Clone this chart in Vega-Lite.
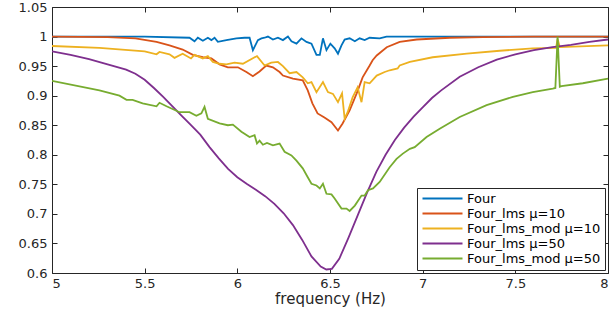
{
  "$schema": "https://vega.github.io/schema/vega-lite/v6.json",
  "width": 556,
  "height": 266,
  "autosize": {"type": "none"},
  "padding": {"left": 52, "top": 7, "right": 4, "bottom": 37},
  "config": {
    "view": {"stroke": "#262626", "strokeWidth": 1},
    "font": "DejaVu Sans",
    "axis": {"labelFont": "DejaVu Sans", "labelFontSize": 13, "labelColor": "#262626", "domainColor": "#262626", "tickColor": "#262626", "grid": false, "titleFont": "DejaVu Sans", "titleFontWeight": "normal", "titleColor": "#262626"}
  },
  "datasets": {
    "curves": [
      {"s": "Four", "x": 5.0, "y": 1.0}, {"s": "Four", "x": 5.5, "y": 1.0}, {"s": "Four", "x": 5.742, "y": 0.998}, {"s": "Four", "x": 5.769, "y": 0.992}, {"s": "Four", "x": 5.787, "y": 0.998}, {"s": "Four", "x": 5.814, "y": 0.993}, {"s": "Four", "x": 5.841, "y": 0.998}, {"s": "Four", "x": 5.86, "y": 0.994}, {"s": "Four", "x": 5.877, "y": 0.998}, {"s": "Four", "x": 5.895, "y": 0.991}, {"s": "Four", "x": 5.941, "y": 0.994}, {"s": "Four", "x": 5.995, "y": 0.997}, {"s": "Four", "x": 6.039, "y": 0.998}, {"s": "Four", "x": 6.066, "y": 0.998}, {"s": "Four", "x": 6.084, "y": 0.977}, {"s": "Four", "x": 6.111, "y": 0.994}, {"s": "Four", "x": 6.13, "y": 0.997}, {"s": "Four", "x": 6.147, "y": 0.998}, {"s": "Four", "x": 6.165, "y": 1.0}, {"s": "Four", "x": 6.192, "y": 0.995}, {"s": "Four", "x": 6.219, "y": 0.998}, {"s": "Four", "x": 6.246, "y": 0.994}, {"s": "Four", "x": 6.273, "y": 1.0}, {"s": "Four", "x": 6.292, "y": 0.992}, {"s": "Four", "x": 6.319, "y": 0.988}, {"s": "Four", "x": 6.346, "y": 0.997}, {"s": "Four", "x": 6.373, "y": 0.991}, {"s": "Four", "x": 6.4, "y": 0.988}, {"s": "Four", "x": 6.427, "y": 0.969}, {"s": "Four", "x": 6.445, "y": 0.969}, {"s": "Four", "x": 6.462, "y": 0.997}, {"s": "Four", "x": 6.481, "y": 0.977}, {"s": "Four", "x": 6.502, "y": 0.988}, {"s": "Four", "x": 6.525, "y": 0.98}, {"s": "Four", "x": 6.543, "y": 0.971}, {"s": "Four", "x": 6.562, "y": 0.985}, {"s": "Four", "x": 6.579, "y": 0.995}, {"s": "Four", "x": 6.606, "y": 0.997}, {"s": "Four", "x": 6.634, "y": 0.992}, {"s": "Four", "x": 6.66, "y": 0.997}, {"s": "Four", "x": 6.687, "y": 0.994}, {"s": "Four", "x": 6.714, "y": 0.998}, {"s": "Four", "x": 6.768, "y": 0.997}, {"s": "Four", "x": 6.805, "y": 1.0}, {"s": "Four", "x": 8.0, "y": 1.0},

      {"s": "Four_lms μ=10", "x": 5.0, "y": 1.0}, {"s": "Four_lms μ=10", "x": 5.3, "y": 0.999}, {"s": "Four_lms μ=10", "x": 5.45, "y": 0.997}, {"s": "Four_lms μ=10", "x": 5.564, "y": 0.991}, {"s": "Four_lms μ=10", "x": 5.634, "y": 0.985}, {"s": "Four_lms μ=10", "x": 5.705, "y": 0.978}, {"s": "Four_lms μ=10", "x": 5.76, "y": 0.969}, {"s": "Four_lms μ=10", "x": 5.814, "y": 0.965}, {"s": "Four_lms μ=10", "x": 5.86, "y": 0.963}, {"s": "Four_lms μ=10", "x": 5.904, "y": 0.953}, {"s": "Four_lms μ=10", "x": 5.949, "y": 0.948}, {"s": "Four_lms μ=10", "x": 6.003, "y": 0.948}, {"s": "Four_lms μ=10", "x": 6.049, "y": 0.94}, {"s": "Four_lms μ=10", "x": 6.084, "y": 0.933}, {"s": "Four_lms μ=10", "x": 6.12, "y": 0.941}, {"s": "Four_lms μ=10", "x": 6.156, "y": 0.951}, {"s": "Four_lms μ=10", "x": 6.192, "y": 0.948}, {"s": "Four_lms μ=10", "x": 6.228, "y": 0.94}, {"s": "Four_lms μ=10", "x": 6.246, "y": 0.934}, {"s": "Four_lms μ=10", "x": 6.3, "y": 0.929}, {"s": "Four_lms μ=10", "x": 6.353, "y": 0.926}, {"s": "Four_lms μ=10", "x": 6.38, "y": 0.909}, {"s": "Four_lms μ=10", "x": 6.405, "y": 0.887}, {"s": "Four_lms μ=10", "x": 6.433, "y": 0.87}, {"s": "Four_lms μ=10", "x": 6.47, "y": 0.863}, {"s": "Four_lms μ=10", "x": 6.508, "y": 0.855}, {"s": "Four_lms μ=10", "x": 6.543, "y": 0.841}, {"s": "Four_lms μ=10", "x": 6.568, "y": 0.853}, {"s": "Four_lms μ=10", "x": 6.606, "y": 0.875}, {"s": "Four_lms μ=10", "x": 6.644, "y": 0.904}, {"s": "Four_lms μ=10", "x": 6.676, "y": 0.931}, {"s": "Four_lms μ=10", "x": 6.714, "y": 0.951}, {"s": "Four_lms μ=10", "x": 6.73, "y": 0.96}, {"s": "Four_lms μ=10", "x": 6.752, "y": 0.968}, {"s": "Four_lms μ=10", "x": 6.806, "y": 0.982}, {"s": "Four_lms μ=10", "x": 6.876, "y": 0.991}, {"s": "Four_lms μ=10", "x": 6.968, "y": 0.995}, {"s": "Four_lms μ=10", "x": 7.146, "y": 0.998}, {"s": "Four_lms μ=10", "x": 7.324, "y": 0.999}, {"s": "Four_lms μ=10", "x": 7.6, "y": 1.0}, {"s": "Four_lms μ=10", "x": 8.0, "y": 1.0},

      {"s": "Four_lms_mod μ=10", "x": 5.0, "y": 0.984}, {"s": "Four_lms_mod μ=10", "x": 5.256, "y": 0.981}, {"s": "Four_lms_mod μ=10", "x": 5.5, "y": 0.975}, {"s": "Four_lms_mod μ=10", "x": 5.564, "y": 0.97}, {"s": "Four_lms_mod μ=10", "x": 5.58, "y": 0.974}, {"s": "Four_lms_mod μ=10", "x": 5.634, "y": 0.97}, {"s": "Four_lms_mod μ=10", "x": 5.661, "y": 0.964}, {"s": "Four_lms_mod μ=10", "x": 5.705, "y": 0.971}, {"s": "Four_lms_mod μ=10", "x": 5.75, "y": 0.963}, {"s": "Four_lms_mod μ=10", "x": 5.769, "y": 0.969}, {"s": "Four_lms_mod μ=10", "x": 5.814, "y": 0.963}, {"s": "Four_lms_mod μ=10", "x": 5.841, "y": 0.967}, {"s": "Four_lms_mod μ=10", "x": 5.868, "y": 0.957}, {"s": "Four_lms_mod μ=10", "x": 5.904, "y": 0.954}, {"s": "Four_lms_mod μ=10", "x": 5.941, "y": 0.953}, {"s": "Four_lms_mod μ=10", "x": 5.985, "y": 0.956}, {"s": "Four_lms_mod μ=10", "x": 6.03, "y": 0.954}, {"s": "Four_lms_mod μ=10", "x": 6.106, "y": 0.967}, {"s": "Four_lms_mod μ=10", "x": 6.147, "y": 0.951}, {"s": "Four_lms_mod μ=10", "x": 6.183, "y": 0.956}, {"s": "Four_lms_mod μ=10", "x": 6.219, "y": 0.957}, {"s": "Four_lms_mod μ=10", "x": 6.246, "y": 0.95}, {"s": "Four_lms_mod μ=10", "x": 6.282, "y": 0.938}, {"s": "Four_lms_mod μ=10", "x": 6.319, "y": 0.94}, {"s": "Four_lms_mod μ=10", "x": 6.353, "y": 0.931}, {"s": "Four_lms_mod μ=10", "x": 6.38, "y": 0.921}, {"s": "Four_lms_mod μ=10", "x": 6.4, "y": 0.923}, {"s": "Four_lms_mod μ=10", "x": 6.427, "y": 0.906}, {"s": "Four_lms_mod μ=10", "x": 6.462, "y": 0.923}, {"s": "Four_lms_mod μ=10", "x": 6.489, "y": 0.906}, {"s": "Four_lms_mod μ=10", "x": 6.516, "y": 0.903}, {"s": "Four_lms_mod μ=10", "x": 6.543, "y": 0.889}, {"s": "Four_lms_mod μ=10", "x": 6.565, "y": 0.904}, {"s": "Four_lms_mod μ=10", "x": 6.579, "y": 0.861}, {"s": "Four_lms_mod μ=10", "x": 6.595, "y": 0.872}, {"s": "Four_lms_mod μ=10", "x": 6.622, "y": 0.897}, {"s": "Four_lms_mod μ=10", "x": 6.649, "y": 0.914}, {"s": "Four_lms_mod μ=10", "x": 6.67, "y": 0.889}, {"s": "Four_lms_mod μ=10", "x": 6.687, "y": 0.923}, {"s": "Four_lms_mod μ=10", "x": 6.714, "y": 0.921}, {"s": "Four_lms_mod μ=10", "x": 6.752, "y": 0.934}, {"s": "Four_lms_mod μ=10", "x": 6.795, "y": 0.94}, {"s": "Four_lms_mod μ=10", "x": 6.822, "y": 0.943}, {"s": "Four_lms_mod μ=10", "x": 6.865, "y": 0.946}, {"s": "Four_lms_mod μ=10", "x": 6.876, "y": 0.951}, {"s": "Four_lms_mod μ=10", "x": 6.931, "y": 0.957}, {"s": "Four_lms_mod μ=10", "x": 7.054, "y": 0.965}, {"s": "Four_lms_mod μ=10", "x": 7.238, "y": 0.971}, {"s": "Four_lms_mod μ=10", "x": 7.416, "y": 0.976}, {"s": "Four_lms_mod μ=10", "x": 7.594, "y": 0.98}, {"s": "Four_lms_mod μ=10", "x": 7.72, "y": 0.981}, {"s": "Four_lms_mod μ=10", "x": 7.728, "y": 0.996}, {"s": "Four_lms_mod μ=10", "x": 7.74, "y": 0.982}, {"s": "Four_lms_mod μ=10", "x": 8.0, "y": 0.985},

      {"s": "Four_lms μ=50", "x": 5.0, "y": 0.975}, {"s": "Four_lms μ=50", "x": 5.1, "y": 0.969}, {"s": "Four_lms μ=50", "x": 5.2, "y": 0.962}, {"s": "Four_lms μ=50", "x": 5.3, "y": 0.953}, {"s": "Four_lms μ=50", "x": 5.4, "y": 0.944}, {"s": "Four_lms μ=50", "x": 5.45, "y": 0.937}, {"s": "Four_lms μ=50", "x": 5.5, "y": 0.927}, {"s": "Four_lms μ=50", "x": 5.55, "y": 0.913}, {"s": "Four_lms μ=50", "x": 5.6, "y": 0.898}, {"s": "Four_lms μ=50", "x": 5.65, "y": 0.882}, {"s": "Four_lms μ=50", "x": 5.7, "y": 0.866}, {"s": "Four_lms μ=50", "x": 5.75, "y": 0.85}, {"s": "Four_lms μ=50", "x": 5.8, "y": 0.834}, {"s": "Four_lms μ=50", "x": 5.85, "y": 0.813}, {"s": "Four_lms μ=50", "x": 5.9, "y": 0.794}, {"s": "Four_lms μ=50", "x": 5.95, "y": 0.776}, {"s": "Four_lms μ=50", "x": 6.0, "y": 0.762}, {"s": "Four_lms μ=50", "x": 6.05, "y": 0.751}, {"s": "Four_lms μ=50", "x": 6.1, "y": 0.741}, {"s": "Four_lms μ=50", "x": 6.15, "y": 0.73}, {"s": "Four_lms μ=50", "x": 6.2, "y": 0.717}, {"s": "Four_lms μ=50", "x": 6.25, "y": 0.701}, {"s": "Four_lms μ=50", "x": 6.3, "y": 0.681}, {"s": "Four_lms μ=50", "x": 6.35, "y": 0.656}, {"s": "Four_lms μ=50", "x": 6.4, "y": 0.628}, {"s": "Four_lms μ=50", "x": 6.45, "y": 0.611}, {"s": "Four_lms μ=50", "x": 6.48, "y": 0.606}, {"s": "Four_lms μ=50", "x": 6.51, "y": 0.607}, {"s": "Four_lms μ=50", "x": 6.55, "y": 0.624}, {"s": "Four_lms μ=50", "x": 6.6, "y": 0.66}, {"s": "Four_lms μ=50", "x": 6.65, "y": 0.698}, {"s": "Four_lms μ=50", "x": 6.7, "y": 0.736}, {"s": "Four_lms μ=50", "x": 6.75, "y": 0.771}, {"s": "Four_lms μ=50", "x": 6.8, "y": 0.8}, {"s": "Four_lms μ=50", "x": 6.85, "y": 0.825}, {"s": "Four_lms μ=50", "x": 6.9, "y": 0.846}, {"s": "Four_lms μ=50", "x": 6.95, "y": 0.864}, {"s": "Four_lms μ=50", "x": 7.0, "y": 0.88}, {"s": "Four_lms μ=50", "x": 7.05, "y": 0.896}, {"s": "Four_lms μ=50", "x": 7.1, "y": 0.909}, {"s": "Four_lms μ=50", "x": 7.2, "y": 0.932}, {"s": "Four_lms μ=50", "x": 7.3, "y": 0.948}, {"s": "Four_lms μ=50", "x": 7.4, "y": 0.961}, {"s": "Four_lms μ=50", "x": 7.5, "y": 0.97}, {"s": "Four_lms μ=50", "x": 7.6, "y": 0.977}, {"s": "Four_lms μ=50", "x": 7.7, "y": 0.982}, {"s": "Four_lms μ=50", "x": 7.8, "y": 0.986}, {"s": "Four_lms μ=50", "x": 7.9, "y": 0.991}, {"s": "Four_lms μ=50", "x": 8.0, "y": 0.995},

      {"s": "Four_lms_mod μ=50", "x": 5.0, "y": 0.925}, {"s": "Four_lms_mod μ=50", "x": 5.256, "y": 0.909}, {"s": "Four_lms_mod μ=50", "x": 5.364, "y": 0.9}, {"s": "Four_lms_mod μ=50", "x": 5.402, "y": 0.893}, {"s": "Four_lms_mod μ=50", "x": 5.435, "y": 0.893}, {"s": "Four_lms_mod μ=50", "x": 5.489, "y": 0.887}, {"s": "Four_lms_mod μ=50", "x": 5.564, "y": 0.882}, {"s": "Four_lms_mod μ=50", "x": 5.58, "y": 0.888}, {"s": "Four_lms_mod μ=50", "x": 5.618, "y": 0.882}, {"s": "Four_lms_mod μ=50", "x": 5.688, "y": 0.872}, {"s": "Four_lms_mod μ=50", "x": 5.742, "y": 0.872}, {"s": "Four_lms_mod μ=50", "x": 5.779, "y": 0.866}, {"s": "Four_lms_mod μ=50", "x": 5.806, "y": 0.87}, {"s": "Four_lms_mod μ=50", "x": 5.823, "y": 0.881}, {"s": "Four_lms_mod μ=50", "x": 5.841, "y": 0.861}, {"s": "Four_lms_mod μ=50", "x": 5.904, "y": 0.853}, {"s": "Four_lms_mod μ=50", "x": 5.949, "y": 0.85}, {"s": "Four_lms_mod μ=50", "x": 5.976, "y": 0.851}, {"s": "Four_lms_mod μ=50", "x": 6.022, "y": 0.839}, {"s": "Four_lms_mod μ=50", "x": 6.066, "y": 0.83}, {"s": "Four_lms_mod μ=50", "x": 6.093, "y": 0.833}, {"s": "Four_lms_mod μ=50", "x": 6.106, "y": 0.819}, {"s": "Four_lms_mod μ=50", "x": 6.12, "y": 0.824}, {"s": "Four_lms_mod μ=50", "x": 6.138, "y": 0.817}, {"s": "Four_lms_mod μ=50", "x": 6.16, "y": 0.82}, {"s": "Four_lms_mod μ=50", "x": 6.192, "y": 0.816}, {"s": "Four_lms_mod μ=50", "x": 6.228, "y": 0.819}, {"s": "Four_lms_mod μ=50", "x": 6.255, "y": 0.805}, {"s": "Four_lms_mod μ=50", "x": 6.292, "y": 0.799}, {"s": "Four_lms_mod μ=50", "x": 6.319, "y": 0.79}, {"s": "Four_lms_mod μ=50", "x": 6.353, "y": 0.777}, {"s": "Four_lms_mod μ=50", "x": 6.38, "y": 0.762}, {"s": "Four_lms_mod μ=50", "x": 6.4, "y": 0.751}, {"s": "Four_lms_mod μ=50", "x": 6.427, "y": 0.748}, {"s": "Four_lms_mod μ=50", "x": 6.445, "y": 0.743}, {"s": "Four_lms_mod μ=50", "x": 6.462, "y": 0.751}, {"s": "Four_lms_mod μ=50", "x": 6.481, "y": 0.734}, {"s": "Four_lms_mod μ=50", "x": 6.508, "y": 0.733}, {"s": "Four_lms_mod μ=50", "x": 6.525, "y": 0.726}, {"s": "Four_lms_mod μ=50", "x": 6.562, "y": 0.709}, {"s": "Four_lms_mod μ=50", "x": 6.589, "y": 0.709}, {"s": "Four_lms_mod μ=50", "x": 6.606, "y": 0.705}, {"s": "Four_lms_mod μ=50", "x": 6.634, "y": 0.714}, {"s": "Four_lms_mod μ=50", "x": 6.67, "y": 0.731}, {"s": "Four_lms_mod μ=50", "x": 6.687, "y": 0.731}, {"s": "Four_lms_mod μ=50", "x": 6.705, "y": 0.74}, {"s": "Four_lms_mod μ=50", "x": 6.732, "y": 0.743}, {"s": "Four_lms_mod μ=50", "x": 6.768, "y": 0.754}, {"s": "Four_lms_mod μ=50", "x": 6.822, "y": 0.779}, {"s": "Four_lms_mod μ=50", "x": 6.859, "y": 0.793}, {"s": "Four_lms_mod μ=50", "x": 6.893, "y": 0.802}, {"s": "Four_lms_mod μ=50", "x": 6.931, "y": 0.81}, {"s": "Four_lms_mod μ=50", "x": 6.957, "y": 0.813}, {"s": "Four_lms_mod μ=50", "x": 7.021, "y": 0.83}, {"s": "Four_lms_mod μ=50", "x": 7.092, "y": 0.844}, {"s": "Four_lms_mod μ=50", "x": 7.2, "y": 0.864}, {"s": "Four_lms_mod μ=50", "x": 7.345, "y": 0.884}, {"s": "Four_lms_mod μ=50", "x": 7.487, "y": 0.898}, {"s": "Four_lms_mod μ=50", "x": 7.594, "y": 0.906}, {"s": "Four_lms_mod μ=50", "x": 7.702, "y": 0.912}, {"s": "Four_lms_mod μ=50", "x": 7.716, "y": 0.913}, {"s": "Four_lms_mod μ=50", "x": 7.728, "y": 1.0}, {"s": "Four_lms_mod μ=50", "x": 7.74, "y": 0.915}, {"s": "Four_lms_mod μ=50", "x": 7.749, "y": 0.916}, {"s": "Four_lms_mod μ=50", "x": 7.864, "y": 0.921}, {"s": "Four_lms_mod μ=50", "x": 8.0, "y": 0.929}
    ]
  },
  "data": {"name": "curves"},
  "resolve": {"axis": {"x": "independent", "y": "independent"}},
  "layer": [
    {
      "mark": {"type": "line", "strokeWidth": 1.8, "clip": true},
      "encoding": {
        "x": {"field": "x", "type": "quantitative", "scale": {"domain": [5, 8], "nice": false, "zero": false},
              "axis": {"orient": "bottom", "values": [5, 5.5, 6, 6.5, 7, 7.5, 8], "format": "~g", "title": "frequency (Hz)", "titleFontSize": 15, "titlePadding": 1, "tickSize": -5, "labelPadding": 9, "domain": false}},
        "y": {"field": "y", "type": "quantitative", "scale": {"domain": [0.6, 1.05], "nice": false, "zero": false},
              "axis": {"orient": "left", "values": [0.6, 0.65, 0.7, 0.75, 0.8, 0.85, 0.9, 0.95, 1, 1.05], "format": "~g", "title": null, "tickSize": -5, "labelPadding": 10, "domain": false}},
        "color": {"field": "s", "type": "nominal", "sort": null,
                  "scale": {"domain": ["Four", "Four_lms μ=10", "Four_lms_mod μ=10", "Four_lms μ=50", "Four_lms_mod μ=50"],
                            "range": ["#0072BD", "#D95319", "#EDB120", "#7E2F8E", "#77AC30"]},
                  "legend": {"title": null, "orient": "bottom-right", "offset": 3, "padding": 4,
                             "fillColor": "white", "strokeColor": "#262626",
                             "symbolType": "M-1,0H7", "symbolSize": 100, "symbolStrokeWidth": 2,
                             "labelFont": "DejaVu Sans", "labelFontSize": 13, "labelColor": "#000000", "labelOffset": 33, "rowPadding": 1, "labelLimit": 300}}
      }
    },
    {
      "mark": {"type": "point", "opacity": 0},
      "encoding": {
        "x": {"field": "x", "type": "quantitative",
              "axis": {"orient": "top", "values": [5, 5.5, 6, 6.5, 7, 7.5, 8], "labels": false, "title": null, "tickSize": -5, "domain": false}},
        "y": {"field": "y", "type": "quantitative",
              "axis": {"orient": "right", "values": [0.6, 0.65, 0.7, 0.75, 0.8, 0.85, 0.9, 0.95, 1, 1.05], "labels": false, "title": null, "tickSize": -5, "domain": false}}
      }
    }
  ]
}
